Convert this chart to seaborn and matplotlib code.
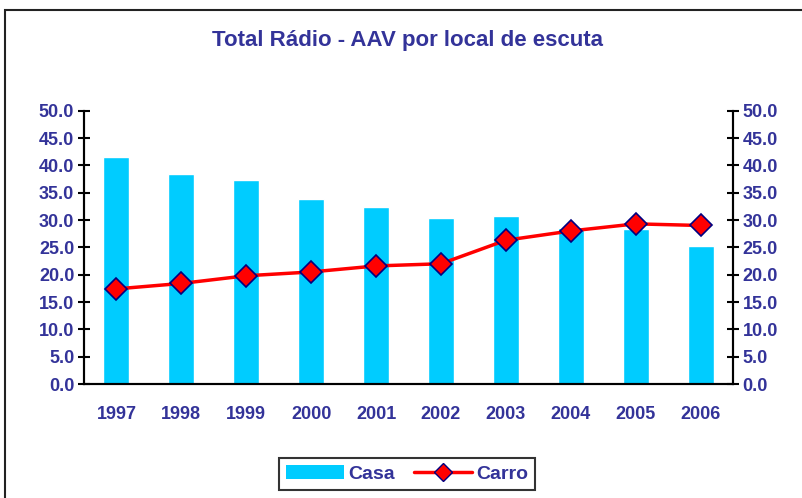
import matplotlib
matplotlib.use('Agg')
import matplotlib.pyplot as plt
from matplotlib.patches import Patch, Rectangle
from matplotlib.lines import Line2D
from matplotlib.ticker import MultipleLocator, FormatStrFormatter
import numpy as np
import seaborn as sns

years = ['1997', '1998', '1999', '2000', '2001', '2002', '2003', '2004', '2005', '2006']
casa = [41.5, 38.4, 37.4, 33.9, 32.4, 30.4, 30.7, 28.6, 28.4, 25.3]
carro = [17.4, 18.4, 19.8, 20.5, 21.6, 22.0, 26.3, 28.0, 29.3, 29.0]

text_color = '#333399'
bar_color = '#00CCFF'

sns.set_style('white')
plt.rcParams['font.family'] = ['Liberation Sans', 'DejaVu Sans']

fig = plt.figure(figsize=(8.03, 4.98), dpi=100)
ax = fig.add_axes([0.1046, 0.2289, 0.8082, 0.5488])

sns.barplot(x=years, y=casa, color=bar_color, width=0.4, saturation=1, ax=ax)
sns.lineplot(x=np.arange(len(years)), y=carro, color='red', lw=2.5, marker='D',
             markersize=11, markerfacecolor='red', markeredgecolor='#000080',
             markeredgewidth=1.2, ax=ax, zorder=5)

ax.set_xlim(-0.5, len(years) - 0.5)
ax.set_ylim(0, 50)
ax.yaxis.set_major_locator(MultipleLocator(5))
ax.yaxis.set_major_formatter(FormatStrFormatter('%.1f'))
ax.set_xlabel('')
ax.set_ylabel('')

# category boundaries get the tick marks
ax.set_xticks(np.arange(len(years)))
ax.set_xticklabels(years)
ax.set_xticks(np.arange(-0.5, len(years)), minor=True)
ax.tick_params(axis='x', which='major', length=0, pad=16)
ax.tick_params(axis='x', which='minor', length=6, width=1.5, direction='out', color='black')
ax.tick_params(axis='y', length=8, width=1.5, direction='inout', color='black', pad=3)

for lbl in ax.get_xticklabels() + ax.get_yticklabels():
    lbl.set_color(text_color)
    lbl.set_fontweight('bold')
    lbl.set_fontsize(13)

ax2 = ax.twinx()
ax2.set_ylim(0, 50)
ax2.yaxis.set_major_locator(MultipleLocator(5))
ax2.yaxis.set_major_formatter(FormatStrFormatter('%.1f'))
ax2.tick_params(axis='y', length=8, width=1.5, direction='inout', color='black', pad=3)
for lbl in ax2.get_yticklabels():
    lbl.set_color(text_color)
    lbl.set_fontweight('bold')
    lbl.set_fontsize(13)

for a in (ax, ax2):
    a.spines['top'].set_visible(False)
    for s in ('left', 'right', 'bottom'):
        a.spines[s].set_color('black')
        a.spines[s].set_linewidth(1.5)

fig.text(0.508, 0.918, 'Total Rádio - AAV por local de escuta', ha='center', va='center',
         fontsize=16, fontweight='bold', color=text_color)

# outer chart frame
fig.patches.append(Rectangle((5 / 803, -0.05), 1.05, 0.05 + (488 / 498), transform=fig.transFigure,
                             fill=False, edgecolor='#222222', linewidth=1.5))

handles = [Patch(facecolor=bar_color, edgecolor='none'),
           Line2D([], [], color='red', lw=2.5, marker='D', markersize=9,
                  markerfacecolor='red', markeredgecolor='#000080')]
leg = fig.legend(handles, ['Casa', 'Carro'], loc='center', bbox_to_anchor=(0.507, 0.048),
                 ncol=2, frameon=True, fancybox=False, edgecolor='black',
                 prop={'weight': 'bold', 'size': 14}, handlelength=3.0, handletextpad=0.2,
                 columnspacing=1.0, borderpad=0.35)
leg.get_frame().set_linewidth(1.5)
for t in leg.get_texts():
    t.set_color(text_color)

fig.savefig('out.png', dpi=100)
